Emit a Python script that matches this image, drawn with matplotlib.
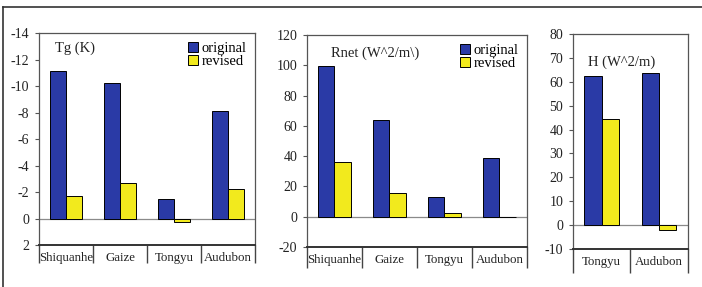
import matplotlib

matplotlib.use("Agg")
import matplotlib.pyplot as plt
from matplotlib.lines import Line2D
import numpy as np

BLUE = "#2a3aa6"
YELLOW = "#f2ea1d"

plt.rcParams["font.family"] = ["Liberation Serif", "DejaVu Serif"]

tg_sites = ["Shiquanhe", "Gaize", "Tongyu", "Audubon"]
tg_original = [-11.1, -10.2, -1.5, -8.1]
tg_revised = [-1.7, -2.7, 0.3, -2.2]
tg_ticks = [-14, -12, -10, -8, -6, -4, -2, 0, 2]

rnet_sites = ["Shiquanhe", "Gaize", "Tongyu", "Audubon"]
rnet_original = [99.5, 64.0, 13.0, 38.5]
rnet_revised = [36.0, 15.5, 2.5, -0.5]
rnet_ticks = [-20, 0, 20, 40, 60, 80, 100, 120]

h_sites = ["Tongyu", "Audubon"]
h_original = [62.5, 63.5]
h_revised = [44.5, -2.0]
h_ticks = [-10, 0, 10, 20, 30, 40, 50, 60, 70, 80]


def panel(fig, rect, sites, orig, rev, ticks, title, title_xy, legend, sep_len,
          invert=False, title_ha="left"):
    ax = fig.add_axes(rect)
    x = np.arange(len(sites))
    w = 0.3
    ax.bar(x - w / 2, orig, w, color=BLUE, edgecolor="black", linewidth=0.7,
           label="original", zorder=3)
    ax.bar(x + w / 2, rev, w, color=YELLOW, edgecolor="black", linewidth=0.7,
           label="revised", zorder=3)
    ax.axhline(0, color="#8a8a8a", linewidth=0.9, zorder=2)
    ax.set_xlim(-0.5, len(sites) - 0.5)
    ax.set_ylim(ticks[0], ticks[-1])
    if invert:
        ax.invert_yaxis()
    ax.set_yticks(ticks)
    ax.set_yticklabels([str(t) for t in ticks])
    ax.tick_params(axis="y", direction="out", length=3, width=0.8,
                   labelsize=10, pad=4, color="#555555", labelcolor="#222222")

    # category separators below the axis, labels centred between them
    ax.set_xticks(np.arange(len(sites) + 1) - 0.5)
    ax.set_xticklabels([])
    ax.tick_params(axis="x", which="major", direction="out", length=sep_len,
                   width=1.0, color="#444444")
    ax.set_xticks(x, minor=True)
    ax.set_xticklabels(sites, minor=True)
    ax.tick_params(axis="x", which="minor", length=0, labelsize=9.3, pad=5,
                   labelcolor="#222222")

    for s in ax.spines.values():
        s.set_color("#555555")
        s.set_linewidth(0.9)
    ax.spines["bottom"].set_linewidth(1.4)
    ax.spines["bottom"].set_color("#333333")

    ax.text(title_xy[0], title_xy[1], title, transform=ax.transAxes,
            fontsize=10.5, ha=title_ha, va="center", color="#222222")
    if legend:
        ax.legend(loc="upper right", frameon=False, fontsize=10.5,
                  handlelength=0.7, handleheight=0.7, handletextpad=0.2,
                  labelspacing=0.0, borderaxespad=0.2,
                  bbox_to_anchor=(1.0, 1.0))
    return ax


fig = plt.figure(figsize=(7.02, 2.87), dpi=100)

panel(fig, [0.0556, 0.1463, 0.3077, 0.7387], tg_sites, tg_original, tg_revised,
      tg_ticks, "Tg (K)", (0.075, 0.93), True, 13, invert=True)
panel(fig, [0.4373, 0.1394, 0.3134, 0.7387], rnet_sites, rnet_original,
      rnet_revised, rnet_ticks, "Rnet (W^2/m\\)", (0.11, 0.915), True, 15)
panel(fig, [0.8162, 0.1324, 0.1638, 0.749], h_sites, h_original, h_revised,
      h_ticks, "H (W^2/m)", (0.42, 0.87), False, 17, title_ha="center")

# outer frame (top and left edges)
fig.add_artist(Line2D([0.004, 1.0], [1 - 7 / 287, 1 - 7 / 287],
                      transform=fig.transFigure, color="#333333", linewidth=1.2))
fig.add_artist(Line2D([0.0045, 0.0045], [0.0, 1 - 7 / 287],
                      transform=fig.transFigure, color="#333333", linewidth=1.2))

fig.savefig("out.png", dpi=100)
